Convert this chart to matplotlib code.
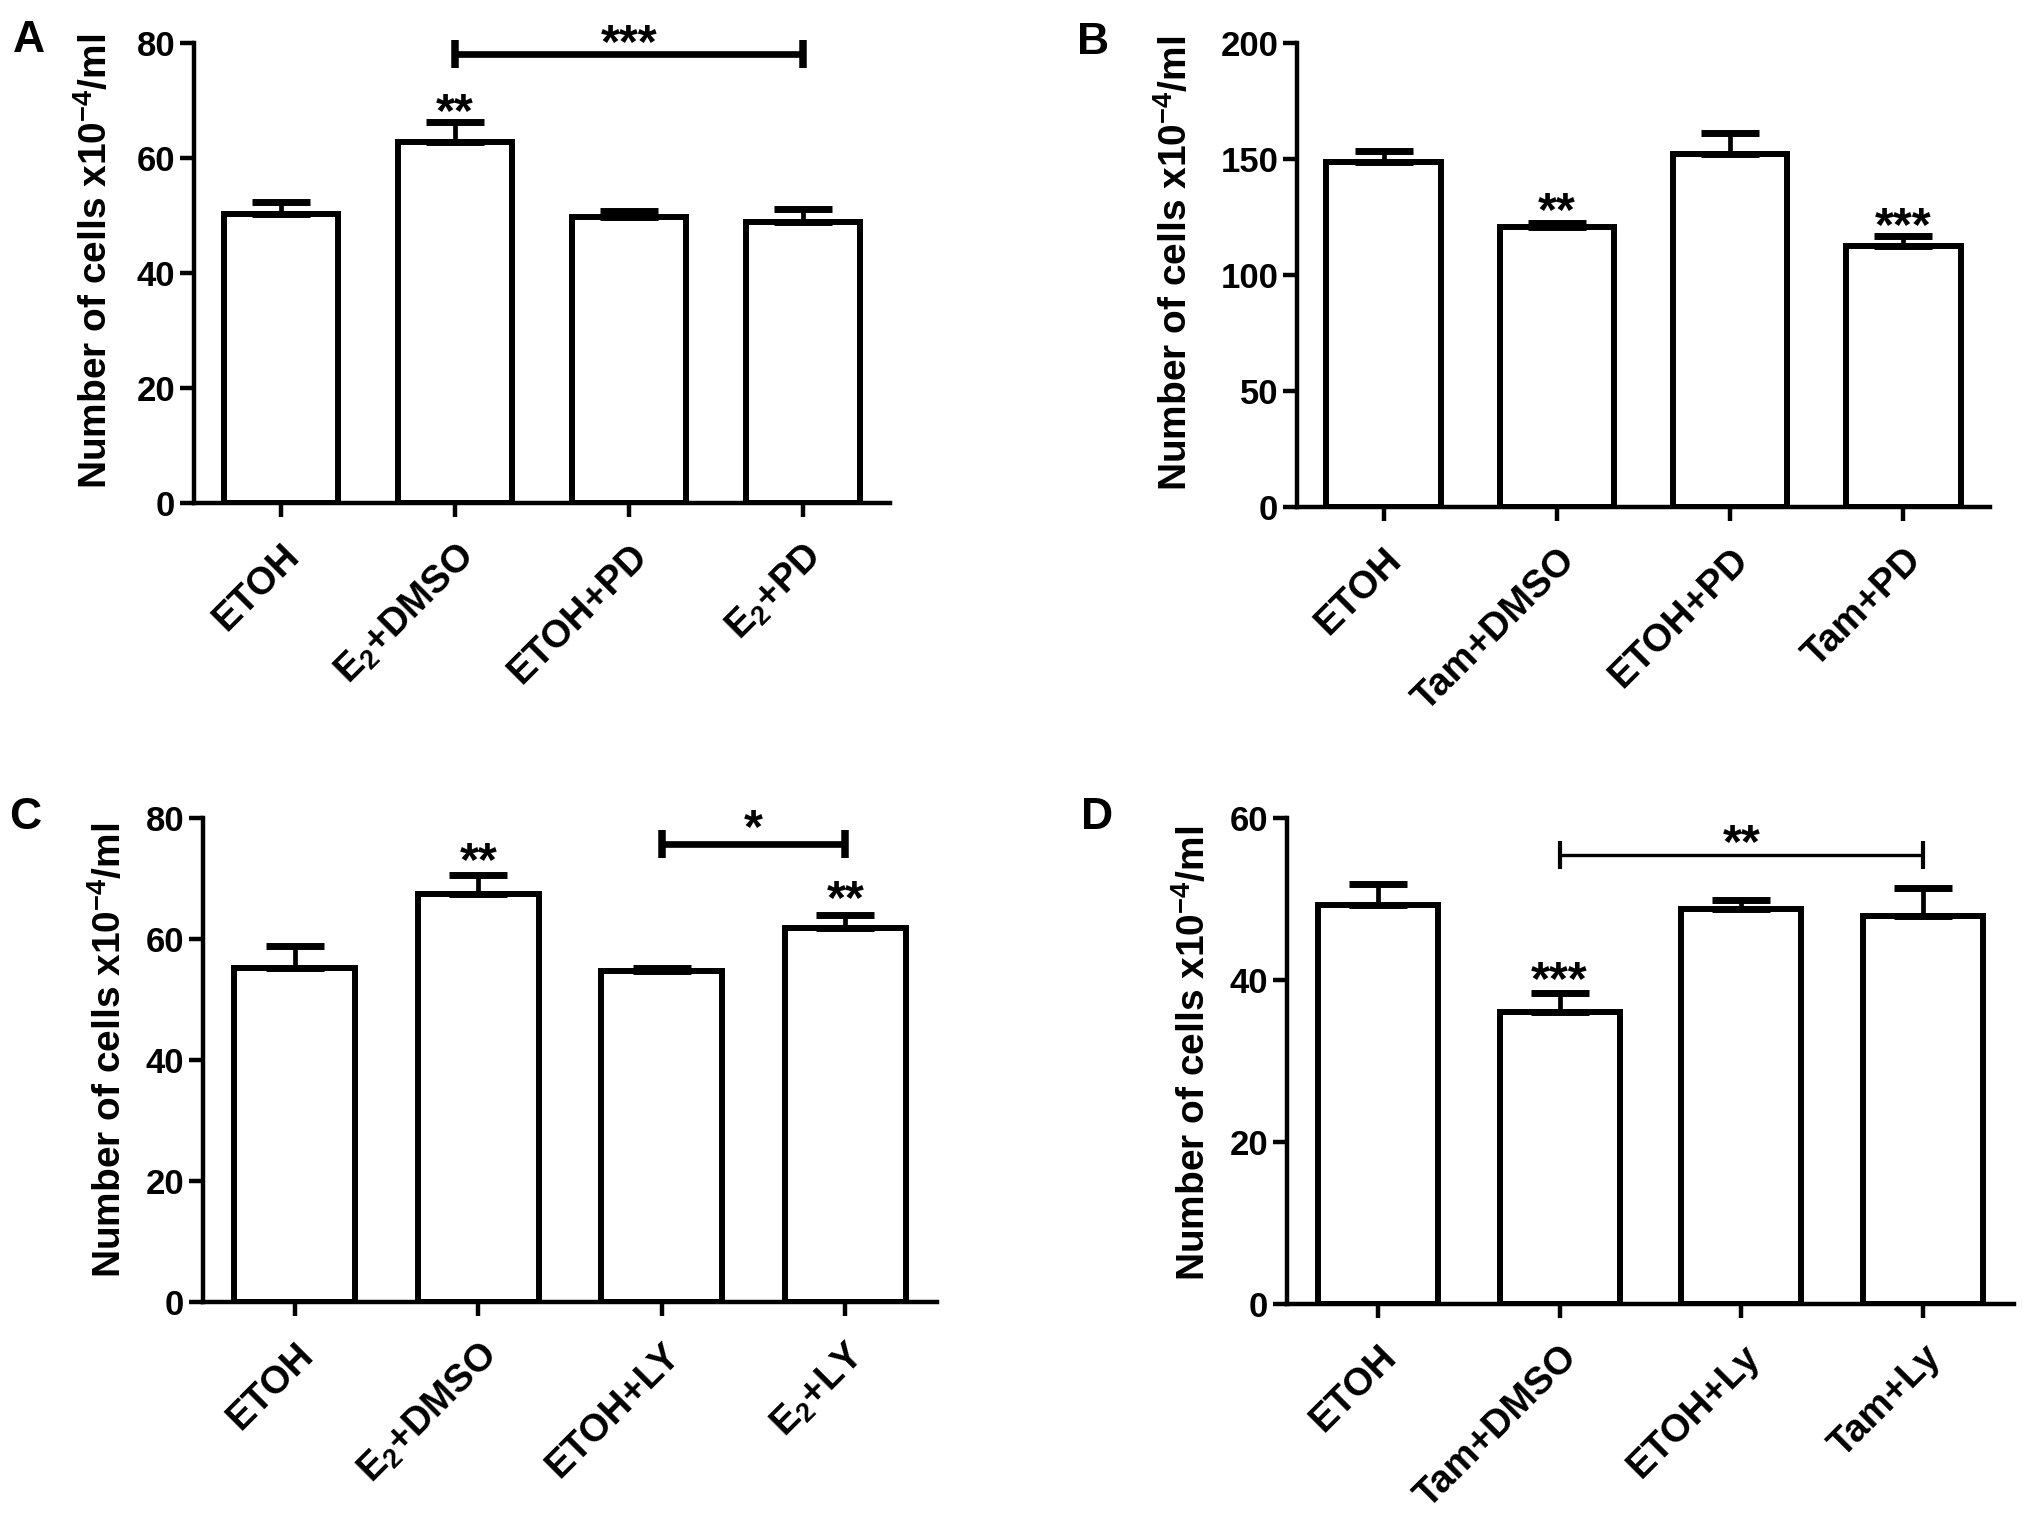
import numpy as np
import matplotlib
matplotlib.use("Agg")
import matplotlib.pyplot as plt
from matplotlib import transforms

plt.rcParams['font.family'] = ['Liberation Sans', 'DejaVu Sans']
plt.rcParams['font.weight'] = 'bold'
plt.rcParams['mathtext.default'] = 'regular'

# ---- data ----
a_labels = ['ETOH', 'E$_2$+DMSO', 'ETOH+PD', 'E$_2$+PD']
a_mean = [50.3, 62.7, 49.7, 48.9]
a_sem = [2.1, 3.5, 1.0, 2.3]

b_labels = ['ETOH', 'Tam+DMSO', 'ETOH+PD', 'Tam+PD']
b_mean = [148.9, 120.9, 152.3, 112.3]
b_sem = [4.6, 1.7, 8.9, 4.6]

c_labels = ['ETOH', 'E$_2$+DMSO', 'ETOH+LY', 'E$_2$+LY']
c_mean = [55.2, 67.5, 54.7, 61.9]
c_sem = [3.7, 3.1, 0.5, 2.1]

d_labels = ['ETOH', 'Tam+DMSO', 'ETOH+Ly', 'Tam+Ly']
d_mean = [49.2, 36.0, 48.8, 47.9]
d_sem = [2.6, 2.4, 1.1, 3.4]

# stars above single bars: (bar index, y of the stars, text)
a_stars = [(1, 69.4, '**')]
b_stars = [(1, 131.2, '**'), (3, 124.5, '***')]
c_stars = [(1, 74.3, '**'), (3, 67.9, '**')]
d_stars = [(1, 41.0, '***')]

# brackets: (from bar, to bar, y of bar, y of text, text)
a_bracket = (1, 3, 78.0, 81.5, '***')
c_bracket = (2, 3, 75.7, 79.7, '*')
d_bracket = (1, 3, 55.4, 57.9, '**')

ylab = 'Number of cells x10$^{-4}$/ml'

W, H = 2031, 1538
fig = plt.figure(figsize=(W / 100, H / 100), dpi=100)


def px_axes(l, r, t, b):
    return fig.add_axes([l / W, 1 - b / H, (r - l) / W, (b - t) / H])


def panel(ax, labels, mean, sem, ymax, ystep, stars, bracket, lab_xy, thin=False):
    x = np.arange(len(mean))
    ax.bar(x, mean, width=0.66, color='white', edgecolor='black',
           linewidth=4.3, zorder=2)
    ax.errorbar(x, mean, yerr=[np.zeros(len(sem)), sem], fmt='none',
                ecolor='black', elinewidth=3.4, capsize=21, capthick=5,
                zorder=3)
    ax.set_xlim(-0.5, 3.5)
    ax.set_ylim(0, ymax)
    ax.set_yticks(np.arange(0, ymax + 1, ystep))
    ax.set_xticks(x)
    ax.set_xticklabels(labels, rotation=45, ha='right', va='top',
                       rotation_mode='anchor', fontsize=27.5, fontweight='bold')
    off = transforms.ScaledTranslation(-2 / 72, 0, fig.dpi_scale_trans)
    for lbl in ax.get_xticklabels():
        lbl.set_transform(lbl.get_transform() + off)
    for s in ['top', 'right']:
        ax.spines[s].set_visible(False)
    for s in ['left', 'bottom']:
        ax.spines[s].set_linewidth(3.2)
    ax.tick_params(axis='y', direction='out', length=10, width=3.2,
                   labelsize=25, pad=3.5)
    ax.tick_params(axis='x', direction='out', length=10, width=3.2, pad=15)
    for t in ax.get_yticklabels():
        t.set_fontweight('bold')

    ax.set_ylabel(ylab, fontsize=28, fontweight='bold')
    ax.yaxis.set_label_coords(lab_xy[0], lab_xy[1])
    ax.yaxis.label.set_va('center')

    for i, y, txt in stars:
        ax.annotate(txt, (x[i], y), xytext=(0, -16), textcoords='offset points',
                    ha='center', va='baseline', fontsize=35, fontweight='bold',
                    annotation_clip=False)

    if bracket is not None:
        i1, i2, yb, yt, txt = bracket
        lw = 2.4 if thin else 4.8
        ax.plot([x[i1], x[i2]], [yb, yb], color='black', lw=lw,
                solid_capstyle='butt', clip_on=False, zorder=4)
        ax.plot([x[i1], x[i2]], [yb, yb], ls='none', marker='|', ms=20,
                mew=lw + 0.6, color='black', clip_on=False, zorder=4)
        ax.annotate(txt, ((x[i1] + x[i2]) / 2, yt), xytext=(0, -16),
                    textcoords='offset points', ha='center', va='baseline',
                    fontsize=35, fontweight='bold', annotation_clip=False)


ax_a = px_axes(194, 890, 43, 503)
panel(ax_a, a_labels, a_mean, a_sem, 80, 20, a_stars, a_bracket, (-0.141, 0.526))

ax_b = px_axes(1297, 1990, 43, 507)
panel(ax_b, b_labels, b_mean, b_sem, 200, 50, b_stars, None, (-0.175, 0.524))

ax_c = px_axes(203, 937, 818, 1302)
panel(ax_c, c_labels, c_mean, c_sem, 80, 20, c_stars, c_bracket, (-0.127, 0.52))

ax_d = px_axes(1287, 2014, 818, 1304)
panel(ax_d, d_labels, d_mean, d_sem, 60, 20, d_stars, d_bracket, (-0.128, 0.516),
      thin=True)

for txt, (px, py) in zip(['A', 'B', 'C', 'D'],
                         [(13, 52), (1077, 54), (9, 829), (1081, 829)]):
    fig.text(px / W, 1 - py / H, txt, fontsize=32, fontweight='bold',
             va='baseline')

fig.savefig('out.png', dpi=100)
